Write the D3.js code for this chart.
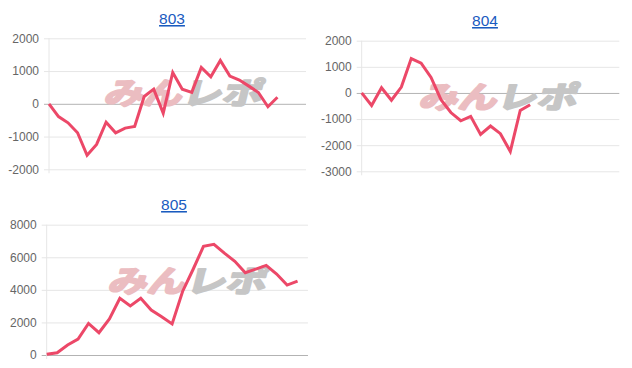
<!DOCTYPE html>
<html>
<head>
<meta charset="utf-8">
<script src="https://cdn.jsdelivr.net/npm/d3@7"></script>
<style>
  html, body { margin: 0; padding: 0; background: #fff; }
  svg { display: block; }
</style>
</head>
<body>
<div id="chart"></div>
<script>
// Three small per-machine difference charts (803 / 804 / 805)

const machines = ['803', '804', '805'];
const values803 = [0, -390, -580, -885, -1570, -1240, -560, -885, -742, -691, 224, 447, -285, 955, 447, 350, 1110, 825, 1325, 845, 727, 540, 346, -90, 200];
const values804 = [0, -480, 200, -280, 225, 1316, 1139, 595, -260, -750, -1065, -895, -1586, -1265, -1560, -2240, -673, -450];
const values805 = [40, 140, 610, 980, 1940, 1370, 2210, 3480, 3010, 3480, 2760, 2350, 1910, 3900, 5250, 6670, 6800, 6250, 5750, 5050, 5275, 5500, 4970, 4295, 4540];
const ticks803 = [-2000, -1000, 0, 1000, 2000];
const ticks804 = [-3000, -2000, -1000, 0, 1000, 2000];
const ticks805 = [0, 2000, 4000, 6000, 8000];
const slots = [27, 26, 25]; // last slot index on the x axis

const LINE = '#ec4868';
const W = 632, H = 368;

// panel boxes (plot area) and title spots
const boxes = [
  { l: 49,    r: 306,   t: 38.3,  b: 169.3, tx: 172, ty: 24,  wx: 186, wy: 93 },
  { l: 361.7, r: 619.3, t: 40.7,  b: 171.3, tx: 485, ty: 26,  wx: 501, wy: 97 },
  { l: 46.7,  r: 308,   t: 224.7, b: 355,   tx: 174, ty: 210, wx: 190, wy: 281 }
];

const svg = d3.select('#chart').append('svg').attr('width', W).attr('height', H);

function drawPanel(i, values, ticks) {
  const bx = boxes[i];
  const x = d3.scaleLinear().domain([0, slots[i]]).range([bx.l, bx.r]);
  const y = d3.scaleLinear().domain(d3.extent(ticks)).range([bx.b, bx.t]);
  const g = svg.append('g');

  // title link
  g.append('text')
    .attr('x', bx.tx).attr('y', bx.ty)
    .attr('text-anchor', 'middle')
    .attr('font-family', 'Liberation Sans, Arial, sans-serif')
    .attr('font-size', 15.5)
    .attr('fill', '#1a5bbf')
    .attr('text-decoration', 'underline')
    .text(machines[i]);

  // grid + y labels
  g.append('g')
    .attr('transform', `translate(${bx.l - 5},0)`)
    .call(d3.axisLeft(y).tickValues(ticks).tickSize(-(bx.r - bx.l + 5)).tickPadding(5).tickFormat(d => d))
    .call(a => {
      a.select('.domain').remove();
      a.selectAll('line').attr('stroke', d => d === 0 ? '#b3b3b3' : '#e6e6e6');
      a.selectAll('text')
        .attr('font-family', 'Liberation Sans, Arial, sans-serif')
        .attr('font-size', 12).attr('fill', '#666');
    });

  // left edge
  g.append('line')
    .attr('x1', bx.l).attr('x2', bx.l).attr('y1', bx.t).attr('y2', bx.b + 4)
    .attr('stroke', '#e6e6e6');

  // watermark
  const wm = g.append('g')
    .attr('transform', `translate(${bx.wx},${bx.wy}) skewX(-14)`)
    .attr('font-family', 'Noto Sans CJK JP, sans-serif')
    .attr('font-weight', 700)
    .attr('font-size', 30)
    .attr('stroke-width', 2.2)
    .attr('stroke-linejoin', 'round');
  wm.append('text').attr('x', -80).attr('y', 11)
    .attr('textLength', 78).attr('lengthAdjust', 'spacingAndGlyphs')
    .attr('fill', '#ebbdc1').attr('stroke', '#ebbdc1').text('みん');
  wm.append('text').attr('x', -2).attr('y', 11)
    .attr('textLength', 80).attr('lengthAdjust', 'spacingAndGlyphs')
    .attr('fill', '#c6c6c6').attr('stroke', '#c6c6c6').text('レポ');

  // series
  const line = d3.line().x((d, k) => x(k)).y(d => y(d));
  g.append('path').datum(values)
    .attr('fill', 'none')
    .attr('stroke', LINE)
    .attr('stroke-width', 3)
    .attr('stroke-linejoin', 'miter')
    .attr('d', line);
}

drawPanel(0, values803, ticks803);
drawPanel(1, values804, ticks804);
drawPanel(2, values805, ticks805);
</script>
</body>
</html>
